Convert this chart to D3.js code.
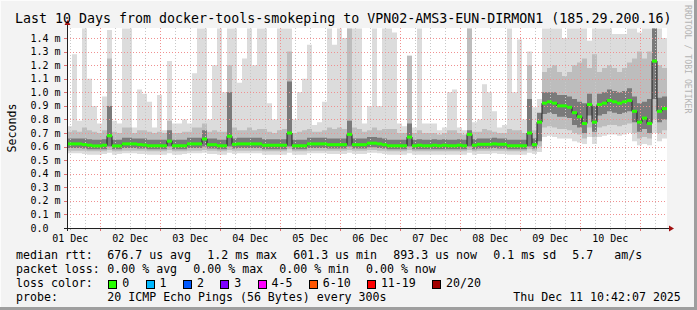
<!DOCTYPE html>
<html>
<head>
<meta charset="utf-8">
<script src="https://cdn.jsdelivr.net/npm/d3@7"></script>
<style>
  body { margin: 0; background: #f3f3f3; }
  svg text { font-family: "DejaVu Sans Mono", monospace; white-space: pre; }
</style>
</head>
<body>
<div id="plot"></div>
<script>
// smokeping: 2h steps over the last 10 days, values in ms
const median = [
  0.62, 0.62, 0.62, 0.615, 0.61, 0.605, 0.605, 0.61, 0.68, 0.605, 0.605, 0.62,
  0.62, 0.62, 0.615, 0.612, 0.606, 0.606, 0.606, 0.606, 0.64, 0.606, 0.606, 0.606,
  0.62, 0.62, 0.62, 0.656, 0.614, 0.614, 0.606, 0.606, 0.676, 0.617, 0.62, 0.62,
  0.62, 0.62, 0.62, 0.61, 0.61, 0.61, 0.61, 0.61, 0.70, 0.606, 0.606, 0.606,
  0.62, 0.62, 0.62, 0.62, 0.614, 0.614, 0.614, 0.614, 0.69, 0.614, 0.614, 0.614,
  0.625, 0.625, 0.62, 0.614, 0.606, 0.606, 0.606, 0.606, 0.67, 0.606, 0.61, 0.606,
  0.606, 0.61, 0.606, 0.61, 0.606, 0.606, 0.61, 0.606, 0.69, 0.61, 0.617, 0.617,
  0.617, 0.62, 0.617, 0.617, 0.606, 0.606, 0.606, 0.606, 0.70, 0.614, 0.78, 0.92,
  0.93, 0.92, 0.90, 0.90, 0.89, 0.85, 0.82, 0.77, 0.91, 0.78, 0.91, 0.92,
  0.94, 0.93, 0.92, 0.93, 0.94, 0.86, 0.78, 0.81, 0.77, 1.23, 0.86, 0.88
];
const pingMax = [
  0.75, 1.28, 0.79, 1.47, 1.10, 0.90, 0.77, 0.97, 1.46, 0.79, 0.77, 1.47,
  1.47, 0.74, 1.02, 0.99, 0.93, 0.74, 0.98, 0.72, 1.23, 0.77, 0.77, 0.80,
  0.77, 1.14, 1.47, 1.47, 0.80, 1.20, 1.47, 1.00, 1.47, 1.47, 1.07, 1.25,
  1.47, 1.20, 1.47, 1.47, 0.92, 0.80, 1.47, 1.47, 1.47, 0.80, 1.00, 1.10,
  1.35, 0.76, 0.78, 0.93, 1.47, 1.35, 1.47, 1.40, 1.47, 1.47, 1.47, 0.77,
  0.90, 1.47, 0.90, 1.47, 1.47, 1.44, 0.77, 0.75, 1.27, 0.74, 1.47, 0.77,
  0.77, 0.77, 0.72, 0.74, 1.00, 1.02, 0.74, 0.72, 1.47, 0.78, 0.80, 1.06,
  1.00, 0.86, 0.74, 0.76, 1.47, 1.00, 1.39, 0.80, 1.30, 0.89, 0.95, 1.47,
  1.47, 1.47, 1.47, 1.40, 1.47, 1.47, 1.47, 1.47, 1.38, 1.47, 1.47, 1.47,
  1.47, 1.43, 1.43, 1.43, 1.47, 1.47, 1.44, 1.47, 1.47, 1.47, 1.47, 1.40
];
const p90 = [
  0.71, 0.72, 0.71, 0.74, 0.72, 0.71, 0.70, 0.72, 1.25, 0.71, 0.70, 0.74,
  0.74, 0.70, 0.72, 0.72, 0.71, 0.70, 0.71, 0.70, 0.79, 0.70, 0.70, 0.71,
  0.71, 0.74, 0.74, 0.77, 0.71, 0.72, 0.71, 0.71, 1.20, 0.74, 0.72, 0.72,
  0.74, 0.72, 0.73, 0.73, 0.71, 0.70, 0.72, 0.73, 1.30, 0.70, 0.71, 0.72,
  0.73, 0.71, 0.71, 0.72, 0.74, 0.73, 0.74, 0.73, 1.47, 0.74, 0.73, 0.71,
  0.72, 0.74, 0.72, 0.73, 0.73, 0.73, 0.70, 0.70, 1.27, 0.70, 0.72, 0.70,
  0.70, 0.70, 0.69, 0.70, 0.72, 0.72, 0.70, 0.69, 1.47, 0.71, 0.71, 0.73,
  0.72, 0.71, 0.70, 0.70, 0.73, 0.72, 0.72, 0.70, 1.20, 0.72, 0.80, 1.15,
  1.18, 1.20, 1.15, 1.12, 1.15, 1.20, 1.22, 1.25, 1.18, 1.28, 1.15, 1.18,
  1.20, 1.18, 1.15, 1.18, 1.22, 1.25, 1.30, 1.25, 1.30, 1.47, 1.20, 1.18
];
const p75 = [
  0.66, 0.66, 0.66, 0.66, 0.655, 0.65, 0.65, 0.655, 0.90, 0.65, 0.65, 0.665,
  0.665, 0.66, 0.66, 0.66, 0.65, 0.65, 0.65, 0.65, 0.72, 0.65, 0.65, 0.65,
  0.665, 0.665, 0.665, 0.72, 0.66, 0.66, 0.65, 0.65, 1.00, 0.66, 0.665, 0.665,
  0.665, 0.665, 0.665, 0.655, 0.655, 0.655, 0.655, 0.655, 1.08, 0.65, 0.65, 0.65,
  0.665, 0.665, 0.665, 0.665, 0.66, 0.66, 0.66, 0.66, 0.79, 0.66, 0.66, 0.66,
  0.67, 0.67, 0.665, 0.66, 0.65, 0.65, 0.65, 0.65, 0.77, 0.65, 0.655, 0.65,
  0.65, 0.655, 0.65, 0.655, 0.65, 0.65, 0.655, 0.65, 0.72, 0.655, 0.66, 0.66,
  0.66, 0.665, 0.66, 0.66, 0.65, 0.65, 0.65, 0.65, 0.95, 0.66, 0.85, 1.00,
  1.00, 1.00, 0.98, 0.98, 0.97, 0.95, 0.93, 0.92, 0.99, 0.90, 0.99, 1.00,
  1.02, 1.01, 1.00, 1.01, 1.03, 0.97, 0.92, 0.93, 0.95, 1.47, 0.96, 0.97
];
const p25 = [
  0.59, 0.59, 0.59, 0.585, 0.58, 0.58, 0.58, 0.58, 0.60, 0.58, 0.58, 0.59,
  0.59, 0.59, 0.585, 0.585, 0.58, 0.58, 0.58, 0.58, 0.60, 0.58, 0.58, 0.58,
  0.59, 0.59, 0.59, 0.60, 0.585, 0.585, 0.58, 0.58, 0.60, 0.585, 0.59, 0.59,
  0.59, 0.59, 0.59, 0.58, 0.58, 0.58, 0.58, 0.58, 0.60, 0.58, 0.58, 0.58,
  0.59, 0.59, 0.59, 0.59, 0.585, 0.585, 0.585, 0.585, 0.60, 0.585, 0.585, 0.585,
  0.595, 0.595, 0.59, 0.585, 0.58, 0.58, 0.58, 0.58, 0.60, 0.58, 0.58, 0.58,
  0.58, 0.58, 0.58, 0.58, 0.58, 0.58, 0.58, 0.58, 0.60, 0.58, 0.585, 0.585,
  0.585, 0.59, 0.585, 0.585, 0.58, 0.58, 0.58, 0.58, 0.60, 0.585, 0.64, 0.84,
  0.85, 0.84, 0.82, 0.82, 0.81, 0.76, 0.74, 0.70, 0.83, 0.71, 0.83, 0.84,
  0.86, 0.85, 0.84, 0.85, 0.86, 0.78, 0.71, 0.73, 0.70, 0.95, 0.78, 0.80
];
const p10 = [
  0.57, 0.57, 0.57, 0.57, 0.565, 0.565, 0.565, 0.565, 0.575, 0.565, 0.565, 0.57,
  0.57, 0.57, 0.57, 0.57, 0.565, 0.565, 0.565, 0.565, 0.575, 0.565, 0.565, 0.565,
  0.57, 0.57, 0.57, 0.575, 0.57, 0.57, 0.565, 0.565, 0.575, 0.57, 0.57, 0.57,
  0.57, 0.57, 0.57, 0.565, 0.565, 0.565, 0.565, 0.565, 0.58, 0.565, 0.565, 0.565,
  0.57, 0.57, 0.57, 0.57, 0.57, 0.57, 0.57, 0.57, 0.575, 0.57, 0.57, 0.57,
  0.575, 0.575, 0.57, 0.57, 0.565, 0.565, 0.565, 0.565, 0.575, 0.565, 0.565, 0.565,
  0.565, 0.565, 0.565, 0.565, 0.565, 0.565, 0.565, 0.565, 0.575, 0.565, 0.57, 0.57,
  0.57, 0.57, 0.57, 0.57, 0.565, 0.565, 0.565, 0.565, 0.58, 0.57, 0.60, 0.74,
  0.75, 0.74, 0.73, 0.73, 0.72, 0.70, 0.69, 0.66, 0.74, 0.67, 0.74, 0.75,
  0.76, 0.76, 0.75, 0.76, 0.77, 0.70, 0.66, 0.67, 0.66, 0.80, 0.70, 0.72
];
const pingMin = [
  0.55, 0.55, 0.55, 0.545, 0.54, 0.54, 0.54, 0.545, 0.555, 0.54, 0.545, 0.55,
  0.55, 0.55, 0.545, 0.545, 0.54, 0.54, 0.54, 0.54, 0.55, 0.54, 0.54, 0.545,
  0.55, 0.55, 0.55, 0.555, 0.545, 0.545, 0.54, 0.54, 0.555, 0.545, 0.55, 0.55,
  0.55, 0.55, 0.55, 0.54, 0.54, 0.54, 0.54, 0.54, 0.555, 0.54, 0.54, 0.54,
  0.55, 0.55, 0.55, 0.55, 0.545, 0.545, 0.545, 0.545, 0.555, 0.545, 0.545, 0.545,
  0.555, 0.555, 0.55, 0.545, 0.54, 0.54, 0.54, 0.54, 0.55, 0.54, 0.54, 0.54,
  0.54, 0.54, 0.54, 0.54, 0.54, 0.54, 0.54, 0.54, 0.555, 0.54, 0.545, 0.545,
  0.545, 0.55, 0.545, 0.545, 0.54, 0.54, 0.54, 0.54, 0.555, 0.545, 0.56, 0.67,
  0.68, 0.67, 0.66, 0.66, 0.66, 0.64, 0.63, 0.62, 0.67, 0.62, 0.67, 0.68,
  0.69, 0.69, 0.68, 0.69, 0.70, 0.64, 0.61, 0.62, 0.61, 0.70, 0.64, 0.66
];

const yTicks = [0, 0.1, 0.2, 0.3, 0.4, 0.5, 0.6, 0.7, 0.8, 0.9, 1.0, 1.1, 1.2, 1.3, 1.4];
const lossLabels = ["0", "1", "2", "3", "4-5", "6-10", "11-19", "20/20"];
const lossColors = ["#26ff00", "#00b8ff", "#0059ff", "#7e00ff", "#ff00ff", "#ff5500", "#ff0000", "#a10000"];
const titleText = "Last 10 Days from docker-tools-smokeping to VPN02-AMS3-EUN-DIRMON1 (185.29.200.16)";
const rttStats = ["median rtt:", "676.7 us avg", "1.2 ms max", "601.3 us min", "893.3 us now", "0.1 ms sd", "5.7", "am/s"];
const lossStats = ["packet loss:", "0.00 % avg", "0.00 % max", "0.00 % min", "0.00 % now"];
const probeText = ["probe:", "20 ICMP Echo Pings (56 Bytes) every 300s", "Thu Dec 11 10:42:07 2025"];

const W = 697, H = 310;
const plot = { left: 67, right: 667, top: 28, bottom: 228 };

const start = Date.UTC(2025, 11, 1, 10, 42, 7);
const stepMs = 2 * 3600 * 1000;
const end = new Date(start + 240 * 3600 * 1000);

const rows = median.map((m, i) => ({
  t: new Date(start + i * stepMs),
  med: m, hi: pingMax[i], p90: p90[i], p75: p75[i], p25: p25[i], p10: p10[i], lo: pingMin[i]
}));
// pad one point so step curves reach the right edge
const padded = rows.concat([Object.assign({}, rows[rows.length - 1], { t: end })]);

const x = d3.scaleUtc().domain([new Date(start), end]).range([plot.left, plot.right]);
const y = d3.scaleLinear().domain([0, 1.474]).range([plot.bottom, plot.top]);

const svg = d3.select("#plot").append("svg")
  .attr("width", W).attr("height", H);

// frame
svg.append("rect").attr("width", W).attr("height", H).attr("fill", "#f3f3f3");
svg.append("rect").attr("x", W - 3).attr("y", 0).attr("width", 3).attr("height", H).attr("fill", "#9e9e9e");
svg.append("rect").attr("x", 0).attr("y", H - 3).attr("width", W).attr("height", 3).attr("fill", "#9e9e9e");
svg.append("rect").attr("x", 0).attr("y", 0).attr("width", W - 3).attr("height", 1).attr("fill", "#fcfcfc");
svg.append("rect").attr("x", 0).attr("y", 0).attr("width", 1).attr("height", H - 3).attr("fill", "#fcfcfc");

// canvas
svg.append("rect")
  .attr("x", plot.left).attr("y", plot.top)
  .attr("width", plot.right - plot.left).attr("height", plot.bottom - plot.top)
  .attr("fill", "#ffffff");

svg.append("clipPath").attr("id", "clip")
  .append("rect")
  .attr("x", plot.left).attr("y", plot.top)
  .attr("width", plot.right - plot.left).attr("height", plot.bottom - plot.top);

const g = svg.append("g").attr("clip-path", "url(#clip)");

// smoke
const band = (a, b) => d3.area()
  .x(d => x(d.t))
  .y0(d => y(d[a]))
  .y1(d => y(d[b]))
  .curve(d3.curveStepAfter);

[["lo", "hi", "#dcdcdc"], ["p10", "p90", "#bdbdbd"], ["p25", "p75", "#7a7a7a"]].forEach(([a, b, c]) => {
  g.append("path").datum(padded).attr("d", band(a, b)).attr("fill", c);
});

// grid
const minorTimes = d3.utcHour.every(6).range(new Date(start), end);
const majorTimes = d3.utcDay.range(new Date(start), end);

g.selectAll(".vminor").data(minorTimes).enter().append("line")
  .attr("x1", d => Math.round(x(d)) + 0.5).attr("x2", d => Math.round(x(d)) + 0.5)
  .attr("y1", plot.top).attr("y2", plot.bottom)
  .attr("stroke", "#c8c8c8").attr("stroke-dasharray", "1,2");

g.selectAll(".vmajor").data(majorTimes).enter().append("line")
  .attr("x1", d => Math.round(x(d)) + 0.5).attr("x2", d => Math.round(x(d)) + 0.5)
  .attr("y1", plot.top).attr("y2", plot.bottom)
  .attr("stroke", "#f09090").attr("stroke-dasharray", "1,2");

g.selectAll(".hgrid").data(yTicks.slice(1)).enter().append("line")
  .attr("x1", plot.left).attr("x2", plot.right)
  .attr("y1", d => Math.round(y(d)) + 0.5).attr("y2", d => Math.round(y(d)) + 0.5)
  .attr("stroke", "#f09090").attr("stroke-dasharray", "1,2");

// median line and loss-coloured marks
g.append("path").datum(padded)
  .attr("d", d3.line().x(d => x(d.t)).y(d => y(d.med)).curve(d3.curveStepAfter))
  .attr("fill", "none").attr("stroke", "#202020").attr("stroke-width", 1);

g.selectAll(".med").data(rows).enter().append("rect")
  .attr("x", d => x(d.t))
  .attr("width", d => x(new Date(+d.t + stepMs)) - x(d.t))
  .attr("y", d => y(d.med) - 1.5)
  .attr("height", 3)
  .attr("fill", lossColors[0]);

// axes
svg.selectAll(".xtick").data(minorTimes).enter().append("line")
  .attr("x1", d => Math.round(x(d)) + 0.5).attr("x2", d => Math.round(x(d)) + 0.5)
  .attr("y1", plot.bottom).attr("y2", plot.bottom + 2)
  .attr("stroke", "#b0b0b0");
svg.selectAll(".xmtick").data(majorTimes).enter().append("line")
  .attr("x1", d => Math.round(x(d)) + 0.5).attr("x2", d => Math.round(x(d)) + 0.5)
  .attr("y1", plot.bottom).attr("y2", plot.bottom + 3)
  .attr("stroke", "#e07070");
svg.selectAll(".ytick").data(yTicks.slice(1)).enter().append("line")
  .attr("x1", plot.left - 3).attr("x2", plot.left)
  .attr("y1", d => Math.round(y(d)) + 0.5).attr("y2", d => Math.round(y(d)) + 0.5)
  .attr("stroke", "#e07070");

svg.append("line")
  .attr("x1", plot.left - 3).attr("x2", plot.right + 2)
  .attr("y1", plot.bottom + 0.5).attr("y2", plot.bottom + 0.5)
  .attr("stroke", "#202020");
svg.append("line")
  .attr("x1", plot.left + 0.5).attr("x2", plot.left + 0.5)
  .attr("y1", plot.bottom + 3).attr("y2", plot.top - 4)
  .attr("stroke", "#202020");
svg.append("path")
  .attr("d", `M${plot.right + 2},${plot.bottom - 2.5}L${plot.right + 7},${plot.bottom + 0.5}L${plot.right + 2},${plot.bottom + 3.5}Z`)
  .attr("fill", "#a01010");
svg.append("path")
  .attr("d", `M${plot.left - 2.5},${plot.top - 3}L${plot.left + 0.5},${plot.top - 8}L${plot.left + 3.5},${plot.top - 3}Z`)
  .attr("fill", "#a01010");

// y labels
svg.selectAll(".ylab").data(yTicks).enter().append("text")
  .attr("x", 30.5)
  .attr("y", d => y(d) + 3.6)
  .style("font-size", "10px")
  .attr("fill", "#000")
  .text(d => d === 0 ? "0.0" : d3.format(".1f")(d) + " m");

// x labels at noon of each day
const noonTimes = majorTimes.map(d => d3.utcHour.offset(d, 12)).filter(d => d < end);
noonTimes.unshift(d3.utcHour.offset(d3.utcDay.floor(new Date(start)), 12));
svg.selectAll(".xlab").data(noonTimes).enter().append("text")
  .attr("x", d => x(d))
  .attr("y", 241.5)
  .attr("text-anchor", "middle")
  .style("font-size", "10px")
  .attr("fill", "#000")
  .text(d => d3.utcFormat("%d %b")(d));

// titles
svg.append("text")
  .attr("x", 15).attr("y", 23)
  .style("font-size", "13.3px")
  .attr("fill", "#000")
  .text(titleText);

svg.append("text")
  .attr("transform", "translate(15.5,128) rotate(-90)")
  .attr("text-anchor", "middle")
  .style("font-size", "11.6px")
  .attr("fill", "#000")
  .text("Seconds");

svg.append("text")
  .attr("transform", "translate(685,5) rotate(90)")
  .style("font-size", "8.2px")
  .attr("fill", "#b4b4b4")
  .text("RRDTOOL / TOBI OETIKER");

// legend
const legendFont = "11.6px";
const charW = 6.96;
const rttX = [16, 107.3, 207.3, 293.3, 393.3, 493.3, 572.3, 614.3];
rttStats.forEach((s, i) => {
  svg.append("text").attr("x", rttX[i]).attr("y", 258.5)
    .style("font-size", legendFont).attr("fill", "#000").text(s);
});
const lossX = [16, 107.3, 193.3, 279.3, 366];
lossStats.forEach((s, i) => {
  svg.append("text").attr("x", lossX[i]).attr("y", 272.5)
    .style("font-size", legendFont).attr("fill", "#000").text(s);
});
svg.append("text").attr("x", 16).attr("y", 286.5)
  .style("font-size", legendFont).attr("fill", "#000").text("loss color:");

let sx = 108.3;
lossLabels.forEach((lab, i) => {
  svg.append("rect")
    .attr("x", Math.round(sx) + 0.5).attr("y", 280.5)
    .attr("width", 8).attr("height", 8)
    .attr("fill", lossColors[i]).attr("stroke", "#000").attr("stroke-width", 1);
  svg.append("text").attr("x", sx + 14).attr("y", 286.5)
    .style("font-size", legendFont).attr("fill", "#000").text(lab);
  sx += 37.3 + (lab.length - 1) * charW;
});

const probeX = [16, 107.3, 513.3];
probeText.forEach((s, i) => {
  svg.append("text").attr("x", probeX[i]).attr("y", 300.5)
    .style("font-size", legendFont).attr("fill", "#000").text(s);
});
</script>
</body>
</html>
